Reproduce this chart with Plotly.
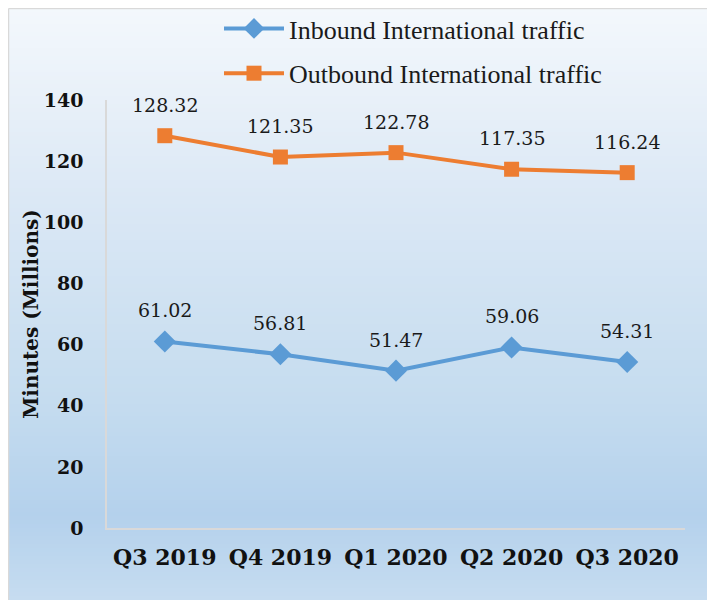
import plotly.graph_objects as go

quarters = ["Q3 2019", "Q4 2019", "Q1 2020", "Q2 2020", "Q3 2020"]
inbound = [61.02, 56.81, 51.47, 59.06, 54.31]
outbound = [128.32, 121.35, 122.78, 117.35, 116.24]
y_ticks = [0, 20, 40, 60, 80, 100, 120, 140]

BLUE = "#5b9bd5"
ORANGE = "#ed7d31"
OFF = 8  # browser body margin
W, H = 715 - OFF, 600 - OFF
# plot area in page pixels: x 107..685, y 100..528
L, R, T, B = 107 - OFF, W - (685 - OFF), 100 - OFF, H - (528 - OFF)
pw, ph = W - L - R, H - T - B

def px_to_paper_x(x):  # page pixel -> paper
    return (x - OFF - L) / pw

def px_to_paper_y(y):
    return (H - B - (y - OFF)) / ph

# gradient stops (page pixel y, rgb)
stops = [(6, (244, 248, 252)), (200, (219, 232, 245)), (400, (197, 220, 239)),
         (515, (180, 209, 236)), (600, (198, 220, 240))]

def color_at(y):
    for (y0, c0), (y1, c1) in zip(stops[:-1], stops[1:]):
        if y0 <= y <= y1:
            t = (y - y0) / (y1 - y0)
            return "rgb(%d,%d,%d)" % tuple(round(a + (b - a) * t) for a, b in zip(c0, c1))
    return "rgb(%d,%d,%d)" % stops[-1][1]

shapes = []
step = 4
y = 8
while y < 600:
    y2 = min(y + step, 600)
    shapes.append(dict(type="rect", xref="paper", yref="paper",
                       x0=px_to_paper_x(9), x1=px_to_paper_x(716),
                       y0=px_to_paper_y(y2 + 0.5), y1=px_to_paper_y(y),
                       fillcolor=color_at((y + y2) / 2), line_width=0, layer="below"))
    y = y2
# outer border
shapes.append(dict(type="line", xref="paper", yref="paper",
                   x0=px_to_paper_x(8.5), x1=px_to_paper_x(8.5),
                   y0=px_to_paper_y(601), y1=px_to_paper_y(8.5),
                   line=dict(color="#d9d9d9", width=1.5), layer="below"))
shapes.append(dict(type="line", xref="paper", yref="paper",
                   x0=px_to_paper_x(8.5), x1=px_to_paper_x(716),
                   y0=px_to_paper_y(8.5), y1=px_to_paper_y(8.5),
                   line=dict(color="#d9d9d9", width=1.5), layer="below"))

fig = go.Figure()
fig.add_trace(go.Scatter(x=quarters, y=inbound, mode="lines+markers",
                         name="Inbound International traffic", legendgroup="a",
                         line=dict(color=BLUE, width=4),
                         marker=dict(symbol="diamond", size=17, color=BLUE)))
fig.add_trace(go.Scatter(x=quarters, y=outbound, mode="lines+markers",
                         name="Outbound International traffic", legendgroup="b",
                         line=dict(color=ORANGE, width=4),
                         marker=dict(symbol="square", size=15, color=ORANGE)))

annotations = []
for series in (inbound, outbound):
    for q, v in zip(quarters, series):
        annotations.append(dict(x=q, y=v, text=f"{v:.2f}", showarrow=False,
                                yshift=31, font=dict(family="DejaVu Serif", size=19, color="#1a1a1a")))

fig.update_layout(
    width=W, height=H,
    margin=dict(l=L, r=R, t=T, b=B, autoexpand=False),
    paper_bgcolor="white", plot_bgcolor="rgba(0,0,0,0)",
    shapes=shapes, annotations=annotations,
    showlegend=True,
    legend=dict(x=px_to_paper_x(219), y=px_to_paper_y(5), xanchor="left", yanchor="top",
                bgcolor="rgba(0,0,0,0)", tracegroupgap=8, orientation="v", itemwidth=60,
                font=dict(family="Liberation Serif", size=26, color="#1a1a1a")),
    xaxis=dict(type="category", range=[-0.5, 4.5], showgrid=False, zeroline=False,
               showline=True, linecolor="#d9d9d9", linewidth=1.5, ticks="",
               ticklabelstandoff=9, automargin=False,
               tickfont=dict(family="DejaVu Serif", size=22, color="#111", weight="bold")),
    yaxis=dict(range=[0, 140], tickvals=y_ticks, showgrid=False, zeroline=False,
               showline=True, linecolor="#d9d9d9", linewidth=1.5, ticks="",
               ticklabelstandoff=18, automargin=False,
               tickfont=dict(family="DejaVu Serif", size=19, color="#111", weight="bold"),
               title=dict(text="Minutes (Millions)", standoff=0,
                          font=dict(family="DejaVu Serif", size=20, color="#111", weight="bold"))),
)

fig.write_html("out.html")
